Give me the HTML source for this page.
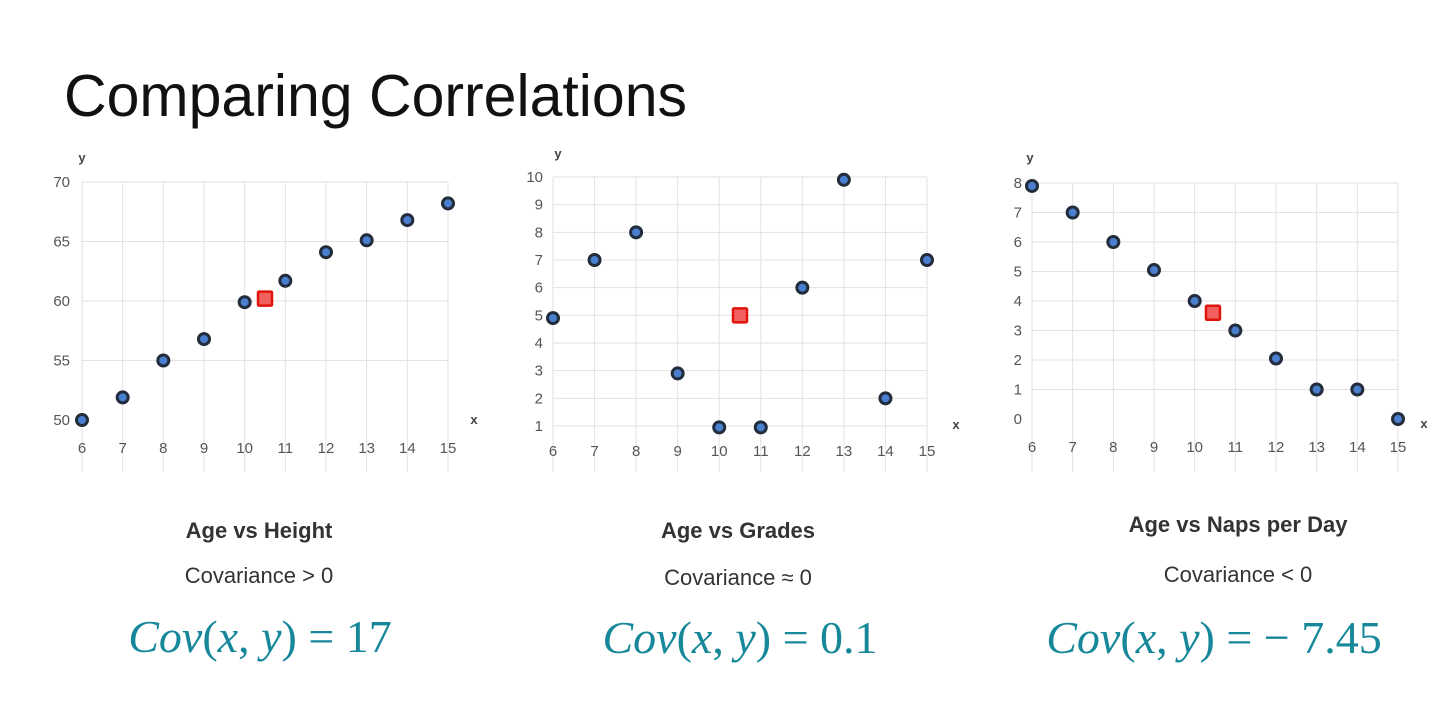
<!DOCTYPE html>
<html><head><meta charset="utf-8"><style>
body{margin:0;background:#fff;width:1440px;height:711px;overflow:hidden;font-family:"Liberation Sans",sans-serif}
svg{position:absolute;left:0;top:0}
</style></head><body>
<svg id="s" width="1440" height="711">
<text x="64" y="116" font-size="59" fill="#111" font-family="Liberation Sans">Comparing Correlations</text>
</svg>
<script>
const xCats=[6,7,8,9,10,11,12,13,14,15];
const heightVals=[50,51.9,55,56.8,59.9,61.7,64.1,65.1,66.8,68.2];
const heightMean=[10.5,60.2];
const heightTicks=[50,55,60,65,70];
const gradeVals=[4.9,7,8,2.9,0.95,0.95,6,9.9,2,7];
const gradeMean=[10.5,5];
const gradeTicks=[1,2,3,4,5,6,7,8,9,10];
const napVals=[7.9,7,6,5.05,4,3,2.05,1,1,0];
const napMean=[10.45,3.6];
const napTicks=[0,1,2,3,4,5,6,7,8];
const titles=["Age vs Height","Age vs Grades","Age vs Naps per Day"];
const subs=["Covariance > 0","Covariance ≈ 0","Covariance < 0"];
const covs=["17","0.1","− 7.45"];

const NS="http://www.w3.org/2000/svg";
const svg=document.getElementById('s');
function el(t,a,p){const e=document.createElementNS(NS,t);for(const k in a)e.setAttribute(k,a[k]);(p||svg).appendChild(e);return e;}

const charts=[
 {vals:heightVals,mean:heightMean,ticks:heightTicks,x0:82,x1:448,ymin:50,ymax:70,py0:420,py1:182,gridFrom:55,lblX:70,xl:453,ylab:[82,162],xlab:[474,424],cx:259,fx:260,ty:[530,575,637]},
 {vals:gradeVals,mean:gradeMean,ticks:gradeTicks,x0:553,x1:927,ymin:1,ymax:10,py0:426,py1:177,gridFrom:1,lblX:543,xl:456,ylab:[558,158],xlab:[956,429],cx:738,fx:740,ty:[530,577,638]},
 {vals:napVals,mean:napMean,ticks:napTicks,x0:1032,x1:1398,ymin:0,ymax:8,py0:419,py1:183,gridFrom:1,lblX:1022,xl:452,ylab:[1030,162],xlab:[1424,428],cx:1238,fx:1214,ty:[524,574,638]}
];
charts.forEach((c,i)=>{
 const g=el('g',{});
 
 
 const xs=v=>c.x0+(v-xCats[0])/(xCats[xCats.length-1]-xCats[0])*(c.x1-c.x0);
 const ys=v=>c.py0+(v-c.ymin)/(c.ymax-c.ymin)*(c.py1-c.py0);
 xCats.forEach(v=>{
  const l=el('line',{x1:xs(v),x2:xs(v),y1:ys(c.ymax),y2:472,stroke:'#e2e2e2','stroke-width':1},g);
  
  const t=el('text',{x:xs(v),y:c.xl,'font-size':15,fill:'#555','text-anchor':'middle'},g);t.textContent=v;
  
 });
 c.ticks.forEach(v=>{
  if(v>=c.gridFrom){const l=el('line',{x1:c.x0,x2:c.x1,y1:ys(v),y2:ys(v),stroke:'#e2e2e2','stroke-width':1},g);
  }
  const t=el('text',{x:c.lblX,y:ys(v)+5,'font-size':15,fill:'#555','text-anchor':'end'},g);t.textContent=v;
  
 });
 let t=el('text',{x:c.ylab[0],y:c.ylab[1],'font-size':13,'font-weight':'bold',fill:'#444','text-anchor':'middle'},g);t.textContent='y';
 
 t=el('text',{x:c.xlab[0],y:c.xlab[1],'font-size':13,'font-weight':'bold',fill:'#444','text-anchor':'middle'},g);t.textContent='x';
 
 c.vals.forEach((v,j)=>{
  const p=el('circle',{cx:xs(xCats[j]),cy:ys(v),r:5.5,fill:'#4a7fd0',stroke:'#222c3a','stroke-width':3},g);
  
 });
 const m=el('rect',{x:xs(c.mean[0])-7,y:ys(c.mean[1])-7,width:14,height:14,fill:'#f26060',stroke:'#e0160c','stroke-width':2.5,rx:1},g);
 
 t=el('text',{x:c.cx,y:c.ty[0]+8,'font-size':22,'font-weight':'bold',fill:'#333','text-anchor':'middle'},g);t.textContent=titles[i];
 
 t=el('text',{x:c.cx,y:c.ty[1]+8,'font-size':22,fill:'#333','text-anchor':'middle'},g);t.textContent=subs[i];
 
 t=el('text',{x:c.fx,y:c.ty[2]+15,'font-size':46,fill:'#17889a','text-anchor':'middle','font-family':'Liberation Serif'},g);
 t.innerHTML='<tspan font-style="italic">Cov</tspan>(<tspan font-style="italic">x</tspan>, <tspan font-style="italic">y</tspan>) = '+covs[i];
 
});
</script>
</body></html>
